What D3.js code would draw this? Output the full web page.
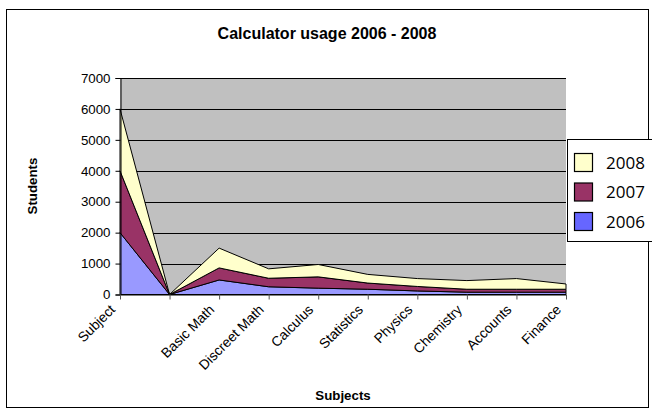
<!DOCTYPE html>
<html><head><meta charset="utf-8">
<script src="https://cdn.jsdelivr.net/npm/d3@7"></script>
<style>body{margin:0;background:#fff}svg{display:block}</style>
</head><body>
<svg id="c" width="652" height="418"></svg>
<script>
const categories = ["Subject", "", "Basic Math", "Discreet Math", "Calculus", "Statistics", "Physics", "Chemistry", "Accounts", "Finance"];
const seriesNames = ["2006", "2007", "2008"];
const values2006 = [2000, 0, 470, 250, 205, 170, 115, 75, 75, 75];
const values2007 = [2000, 0, 390, 275, 365, 200, 145, 95, 95, 95];
const values2008 = [2000, 0, 640, 305, 400, 280, 255, 280, 345, 170];
const yTicks = [0, 1000, 2000, 3000, 4000, 5000, 6000, 7000];
const colors = {"2006": "#9999FF", "2007": "#993366", "2008": "#FFFFCC"};

const svg = d3.select("#c");
const font = "Liberation Sans, Arial, sans-serif";

// outer border
svg.append("rect").attr("x", 6.5).attr("y", 9.5).attr("width", 642).attr("height", 398)
  .attr("fill", "#fff").attr("stroke", "#000").attr("stroke-width", 1);

const L = 120, R = 566, T = 78, B = 294.5;
const x = d3.scalePoint().domain(categories).range([L, R]);
const y = d3.scaleLinear().domain([0, 7000]).range([B, T]);

svg.append("rect").attr("x", L).attr("y", T).attr("width", R - L).attr("height", B - T).attr("fill", "#C0C0C0");

// gridlines
svg.append("g").selectAll("line").data(yTicks.filter(d => d > 0)).join("line")
  .attr("x1", L).attr("x2", R).attr("y1", d => Math.round(y(d)) + 0.5).attr("y2", d => Math.round(y(d)) + 0.5)
  .attr("stroke", "#000").attr("stroke-width", 1);

const table = categories.map((c, i) => ({cat: c, "2006": values2006[i], "2007": values2007[i], "2008": values2008[i]}));
const stack = d3.stack().keys(seriesNames)(table);
const area = d3.area().x(d => x(d.data.cat)).y0(d => y(d[0])).y1(d => y(d[1]));
svg.append("g").selectAll("path").data(stack).join("path")
  .attr("d", area).attr("fill", d => colors[d.key]).attr("stroke", "#000").attr("stroke-width", 1).attr("stroke-linejoin", "round");

// y axis
const ya = svg.append("g").attr("transform", `translate(${L + 0.5},0)`)
  .call(d3.axisLeft(y).tickValues(yTicks).tickSize(5).tickPadding(5).tickFormat(d3.format("d")));
ya.select(".domain").attr("stroke", "#000");
ya.selectAll("text").attr("font-family", font).attr("font-size", 13.3).attr("fill", "#000");

// x axis
const xa = svg.append("g").attr("transform", `translate(0,${B})`)
  .call(d3.axisBottom(x).tickSize(5).tickFormat(""));
xa.select(".domain").attr("stroke", "#000").attr("d", `M${L},0.5H${R}`);
xa.selectAll(".tick line").attr("stroke", "#555");

svg.append("g").selectAll("text").data(categories).join("text")
  .attr("transform", d => `translate(${x(d) - 4},${B + 16}) rotate(-45)`)
  .attr("text-anchor", "end")
  .attr("font-family", font).attr("font-size", 13.8).attr("fill", "#000").text(d => d);

// titles
svg.append("text").attr("x", 327).attr("y", 39).attr("text-anchor", "middle")
  .attr("font-family", font).attr("font-weight", "bold").attr("font-size", 16).text("Calculator usage 2006 - 2008");
svg.append("text").attr("x", 343).attr("y", 400).attr("text-anchor", "middle")
  .attr("font-family", font).attr("font-weight", "bold").attr("font-size", 13.3).text("Subjects");
svg.append("text").attr("transform", "translate(37,186) rotate(-90)").attr("text-anchor", "middle")
  .attr("font-family", font).attr("font-weight", "bold").attr("font-size", 13.3).text("Students");

// legend
const lg = svg.append("g");
lg.append("rect").attr("x", 567.5).attr("y", 139.5).attr("width", 100).attr("height", 102)
  .attr("fill", "#fff").attr("stroke", "#000");
const legOrder = ["2008", "2007", "2006"];
legOrder.forEach((k, i) => {
  const yy = 153 + i * 29.5;
  lg.append("rect").attr("x", 574.5).attr("y", yy + 0.5).attr("width", 18).attr("height", 18)
    .attr("fill", k === "2006" ? "#6666FF" : colors[k]).attr("stroke", "#000").attr("stroke-width", 1.2);
  lg.append("text").attr("x", 606).attr("y", yy + 15.5).attr("font-family", "Open Sans, sans-serif")
    .attr("font-size", 17).attr("fill", "#000").text(k);
});
</script>
</body></html>
